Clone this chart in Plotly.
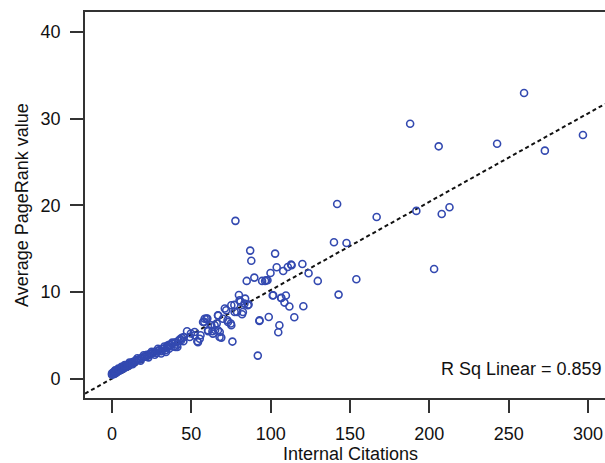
import plotly.graph_objects as go

# Internal citations (x) and average PageRank value (y)
cit_dense = [0, 0, 1, 1, 1, 2, 2, 3, 3, 4, 4, 5, 5, 6, 6, 7, 7, 8, 8, 9, 9, 10, 10, 11, 11, 12, 13, 13, 14,
             15, 15, 16, 17, 18, 19, 20, 21, 22, 22, 23, 24, 25, 26, 27, 28, 29, 30, 31, 32, 33, 34, 35,
             35, 36, 37, 38, 39, 40, 42, 44, 34, 40,
             2, 4, 6, 8, 11, 13, 16, 18, 20, 23, 25, 27, 29, 31, 33, 36, 38, 41, 43, 45]
pr_dense = [0.45, 0.6, 0.5, 0.65, 0.75, 0.6, 0.8, 0.75, 0.9, 0.85, 1.0, 0.95, 1.1, 1.05, 1.2, 1.15, 1.3,
            1.25, 1.4, 1.35, 1.5, 1.45, 1.6, 1.55, 1.7, 1.75, 1.8, 1.9, 1.95, 2.0, 2.1, 2.15, 2.2, 2.3, 2.4,
            2.5, 2.55, 2.6, 2.75, 2.7, 2.85, 2.9, 3.0, 3.1, 2.95, 3.2, 3.3, 3.15, 3.4, 3.5, 3.3, 3.8, 3.6,
            3.9, 3.85, 4.0, 3.7, 4.2, 4.4, 4.7, 3.08, 3.65,
            0.95, 1.15, 1.35, 1.55, 1.85, 1.65, 2.35, 2.05, 2.7, 2.45, 3.1, 2.75, 3.45, 2.9, 3.7, 3.45,
            4.15, 3.9, 4.55, 4.3]

cit_mid = [41.2, 43.6, 45.3, 47.3, 49.0, 49.7, 52.1, 52.1, 53.8, 54.2, 55.3, 55.8, 57.4, 58.2, 58.4, 59.5,
           60.1, 60.5, 60.6, 62.6, 63.3, 63.6, 64.7, 65.0, 66.0, 66.8, 66.8, 66.9, 67.8, 67.9, 68.9, 69.9,
           71.1, 72.0, 72.8, 73.1, 74.9, 75.2, 75.2, 75.9, 77.1, 77.3, 78.8, 80.0, 80.4, 81.0, 82.0, 82.5,
           83.5, 83.9, 84.9, 85.6, 86.1, 87.1, 87.8, 89.7, 91.9, 92.9, 93.0, 94.6, 96.5, 97.2, 98.0, 98.8,
           99.9, 101.3, 101.6, 102.8, 103.8, 104.8, 105.5, 106.6, 106.7, 107.9, 108.7, 109.6, 110.8,
           111.8, 112.9, 113.2, 114.9, 120.0, 120.6, 123.9, 129.7]
pr_mid = [3.65, 4.42, 4.8, 5.46, 4.8, 5.2, 5.0, 5.38, 4.3, 4.2, 4.6, 5.0, 6.53, 6.54, 6.9, 6.92,
          6.92, 5.57, 5.46, 6.15, 5.46, 5.19, 6.15, 5.6, 6.35, 7.3, 5.57, 7.27, 4.8, 5.38, 4.73, 6.9,
          8.08, 7.88, 6.73, 6.53, 6.35, 8.46, 6.15, 4.27, 8.5, 7.69, 7.69, 9.65, 9.04, 8.88, 7.42, 7.69,
          8.65, 9.23, 11.27, 8.46, 8.54, 14.77, 13.6, 11.65, 2.65, 6.65, 6.73, 11.27, 11.27, 11.35, 11.35,
          7.1, 12.19, 9.6, 9.62, 14.42, 12.85, 5.35, 6.15, 9.3, 9.31, 12.42, 8.77, 9.58, 12.88,
          8.31, 13.15, 13.08, 7.08, 13.23, 8.35, 12.15, 11.27]

cit_high = [77.8, 139.9, 141.9, 142.8, 147.8, 154.0, 166.8, 187.9, 191.8, 203.0, 205.9, 207.8,
            212.7, 242.7, 259.7, 272.8, 296.8]
pr_high = [18.2, 15.73, 20.15, 9.69, 15.65, 11.46, 18.65, 29.4, 19.35, 12.65, 26.8, 19.0,
           19.77, 27.1, 32.96, 26.3, 28.1]

citations = cit_dense + cit_mid + cit_high
pagerank = pr_dense + pr_mid + pr_high

# Linear fit reported in the chart
fit_slope = 0.102
fit_intercept = 0.0
r_sq_label = "R Sq Linear = 0.859"

x_range = [-17, 310.7]
y_range = [-2.24, 42.3]

fig = go.Figure()
fit_x = x_range
fit_y = [fit_intercept + fit_slope * v for v in fit_x]
fig.add_trace(go.Scatter(x=fit_x, y=fit_y, mode="lines",
                         line=dict(color="#111111", width=2, dash="4px,3px"),
                         hoverinfo="skip", showlegend=False))
fig.add_trace(go.Scatter(x=citations, y=pagerank, mode="markers",
                         marker=dict(symbol="circle-open", size=7, color="#3349b0",
                                     line=dict(width=1.6, color="#3349b0")),
                         showlegend=False))

font_family = "Liberation Sans, Arial, Helvetica, sans-serif"
axis_common = dict(showgrid=False, zeroline=False, showline=True, linecolor="#333333", linewidth=1.6,
                   ticks="outside", ticklen=13, tickwidth=1.6, tickcolor="#333333",
                   tickfont=dict(family=font_family, size=18, color="#111111"))

fig.update_xaxes(range=x_range, tickvals=[0, 50, 100, 150, 200, 250, 300], mirror=True,
                 ticklabelstandoff=6, **axis_common)
fig.update_yaxes(range=y_range, tickvals=[0, 10, 20, 30, 40], mirror=False,
                 ticklabelstandoff=6, **axis_common)

fig.add_annotation(text="Internal Citations", xref="paper", yref="paper", x=0.5108, y=-0.145,
                   xanchor="center", yanchor="middle", showarrow=False,
                   font=dict(family=font_family, size=18, color="#111111"))
fig.add_annotation(text="Average PageRank value", xref="paper", yref="paper", x=-0.1212, y=0.5,
                   xanchor="center", yanchor="middle", textangle=-90, showarrow=False,
                   font=dict(family=font_family, size=18, color="#111111"))
fig.add_annotation(text=r_sq_label, xref="paper", yref="paper", x=0.998, y=0.0744,
                   xanchor="right", yanchor="middle", showarrow=False,
                   font=dict(family=font_family, size=18, color="#111111"))

fig.update_layout(width=605, height=463, margin=dict(l=85, r=0, t=12, b=65.3),
                  paper_bgcolor="white", plot_bgcolor="white")
fig.write_html("out.html", config={"displayModeBar": False},
               post_script="document.body.style.margin='0';document.body.style.overflow='hidden';")
